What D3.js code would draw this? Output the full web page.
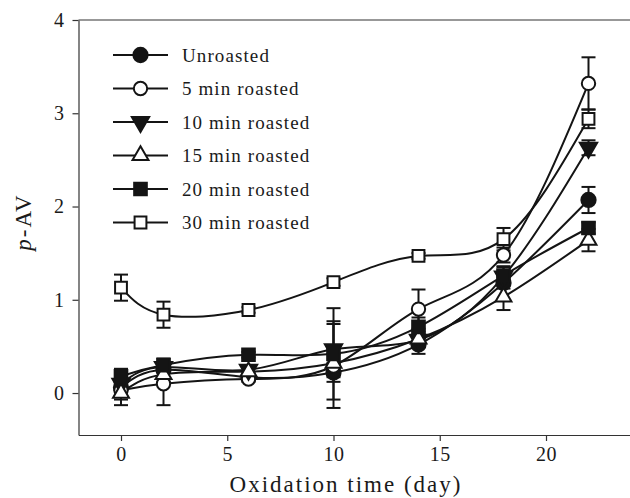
<!DOCTYPE html>
<html>
<head>
<meta charset="utf-8">
<script src="https://cdn.jsdelivr.net/npm/d3@7"></script>
<style>
  html, body { margin: 0; background: #fff; overflow: hidden; }
  svg { display: block; }
  text { font-family: "Liberation Serif", "Times New Roman", serif; fill: #1a1a1a; }
  .tick text { font-size: 20px; letter-spacing: 0.5px; }
  .legend-text { font-size: 19px; letter-spacing: 1.1px; }
  .axis-label { font-size: 23px; letter-spacing: 2px; }
</style>
</head>
<body>
<div id="chart"></div>
<script>
// Data
const days = [0, 2, 6, 10, 14, 18, 22];
const seriesNames = ["Unroasted", "5 min roasted", "10 min roasted", "15 min roasted", "20 min roasted", "30 min roasted"];
const unroasted   = [0.06, 0.25, 0.17, 0.22, 0.52, 1.18, 2.07];
const roast5      = [0.03, 0.10, 0.15, 0.29, 0.90, 1.48, 3.32];
const roast10     = [0.10, 0.28, 0.25, 0.47, 0.57, 1.25, 2.63];
const roast15     = [0.00, 0.20, 0.23, 0.32, 0.58, 1.03, 1.64];
const roast20     = [0.18, 0.30, 0.41, 0.42, 0.71, 1.26, 1.77];
const roast30     = [1.13, 0.84, 0.89, 1.19, 1.47, 1.65, 2.94];
const errUnroasted = [0.08, 0.08, 0.03, 0.10, 0.10, 0.06, 0.14];
const err5         = [0.10, 0.23, 0.03, 0.45, 0.21, 0.08, 0.28];
const err10        = [0.08, 0.06, 0.03, 0.30, 0.06, 0.10, 0.08];
const err15        = [0.13, 0.05, 0.04, 0.10, 0.08, 0.14, 0.12];
const err20        = [0.08, 0.07, 0.03, 0.49, 0.10, 0.10, 0.06];
const err30        = [0.14, 0.14, 0.03, 0.04, 0.03, 0.12, 0.10];
const xTicks = [0, 5, 10, 15, 20];
const yTicks = [0, 1, 2, 3, 4];

const values = [unroasted, roast5, roast10, roast15, roast20, roast30];
const errors = [errUnroasted, err5, err10, err15, err20, err30];
const symbols = [
  { type: d3.symbolCircle, fill: true, size: 160, rot: 0 },
  { type: d3.symbolCircle, fill: false, size: 140, rot: 0 },
  { type: d3.symbolTriangle, fill: true, size: 130, rot: 180 },
  { type: d3.symbolTriangle, fill: false, size: 110, rot: 0 },
  { type: d3.symbolSquare, fill: true, size: 160, rot: 0 },
  { type: d3.symbolSquare, fill: false, size: 140, rot: 0 }
];

const series = seriesNames.map((name, i) => ({
  name: name,
  sym: symbols[i],
  points: days.map((d, j) => ({ day: d, v: values[i][j], e: errors[i][j] }))
}));

// Setup
const width = 630, height = 498;
const ink = "#141414";

const svg = d3.select("#chart")
  .append("svg")
  .attr("width", width)
  .attr("height", height);

const x = d3.scaleLinear().domain([-2, 26]).range([78.5, 673.5]);
const y = d3.scaleLinear().domain([-0.45, 4]).range([435, 20]);

// Axes
svg.append("g")
  .attr("transform", `translate(0, ${y.range()[0]})`)
  .call(d3.axisBottom(x).tickValues(xTicks).tickFormat(d3.format("d")).tickSize(6).tickPadding(6).tickSizeOuter(0))
  .call(g => g.selectAll("line, path").attr("stroke", "#333").attr("stroke-width", 1.2));

svg.append("g")
  .attr("transform", `translate(${x.range()[0]}, 0)`)
  .call(d3.axisLeft(y).tickValues(yTicks).tickFormat(d3.format("d")).tickSize(6).tickPadding(8).tickSizeOuter(0))
  .call(g => g.selectAll("line, path").attr("stroke", "#333").attr("stroke-width", 1.2));

// top frame
svg.append("line")
  .attr("x1", x.range()[0]).attr("x2", x.range()[1])
  .attr("y1", y.range()[1]).attr("y2", y.range()[1])
  .attr("stroke", "#333").attr("stroke-width", 1.2);

svg.selectAll(".tick text").attr("fill", ink);

// Lines
const line = d3.line()
  .x(d => x(d.day))
  .y(d => y(d.v))
  .curve(d3.curveNatural);

svg.selectAll(".series-line")
  .data(series)
  .join("path")
  .attr("class", "series-line")
  .attr("fill", "none")
  .attr("stroke", ink)
  .attr("stroke-width", 2)
  .attr("d", d => line(d.points));

// Error bars
const cap = 7;
const bars = svg.selectAll(".err")
  .data(series.flatMap(s => s.points))
  .join("g")
  .attr("class", "err")
  .attr("stroke", ink)
  .attr("stroke-width", 2);

bars.append("line")
  .attr("x1", d => x(d.day)).attr("x2", d => x(d.day))
  .attr("y1", d => y(d.v - d.e)).attr("y2", d => y(d.v + d.e));
bars.append("line")
  .attr("x1", d => x(d.day) - cap).attr("x2", d => x(d.day) + cap)
  .attr("y1", d => y(d.v + d.e)).attr("y2", d => y(d.v + d.e));
bars.append("line")
  .attr("x1", d => x(d.day) - cap).attr("x2", d => x(d.day) + cap)
  .attr("y1", d => y(d.v - d.e)).attr("y2", d => y(d.v - d.e));

// Markers
function drawSymbol(sel, sym) {
  sel.attr("d", d3.symbol().type(sym.type).size(sym.size))
    .attr("fill", sym.fill ? ink : "#fff")
    .attr("stroke", ink)
    .attr("stroke-width", 2);
}

series.forEach(s => {
  svg.append("g")
    .selectAll("path")
    .data(s.points)
    .join("path")
    .attr("transform", d => `translate(${x(d.day)}, ${y(d.v)}) rotate(${s.sym.rot})`)
    .call(drawSymbol, s.sym);
});

// Legend
const legend = svg.append("g").attr("transform", "translate(113, 55)");
const row = legend.selectAll("g")
  .data(series)
  .join("g")
  .attr("transform", (d, i) => `translate(0, ${i * 33.5})`);

row.append("line")
  .attr("x1", 0).attr("x2", 55)
  .attr("stroke", ink).attr("stroke-width", 2);
row.append("path")
  .each(function(d) {
    d3.select(this)
      .attr("transform", `translate(27.5, 0) rotate(${d.sym.rot})`)
      .call(drawSymbol, d.sym);
  });
row.append("text")
  .attr("class", "legend-text")
  .attr("x", 69)
  .attr("y", 6.5)
  .attr("fill", ink)
  .text(d => d.name);

// Axis labels
svg.append("text")
  .attr("class", "axis-label")
  .attr("x", 346)
  .attr("y", 492)
  .attr("text-anchor", "middle")
  .text("Oxidation time (day)");

const yl = svg.append("text")
  .attr("class", "axis-label")
  .attr("transform", "translate(31, 222) rotate(-90)")
  .attr("text-anchor", "middle");
yl.append("tspan").attr("font-style", "italic").text("p");
yl.append("tspan").text("-AV");
</script>
</body>
</html>
